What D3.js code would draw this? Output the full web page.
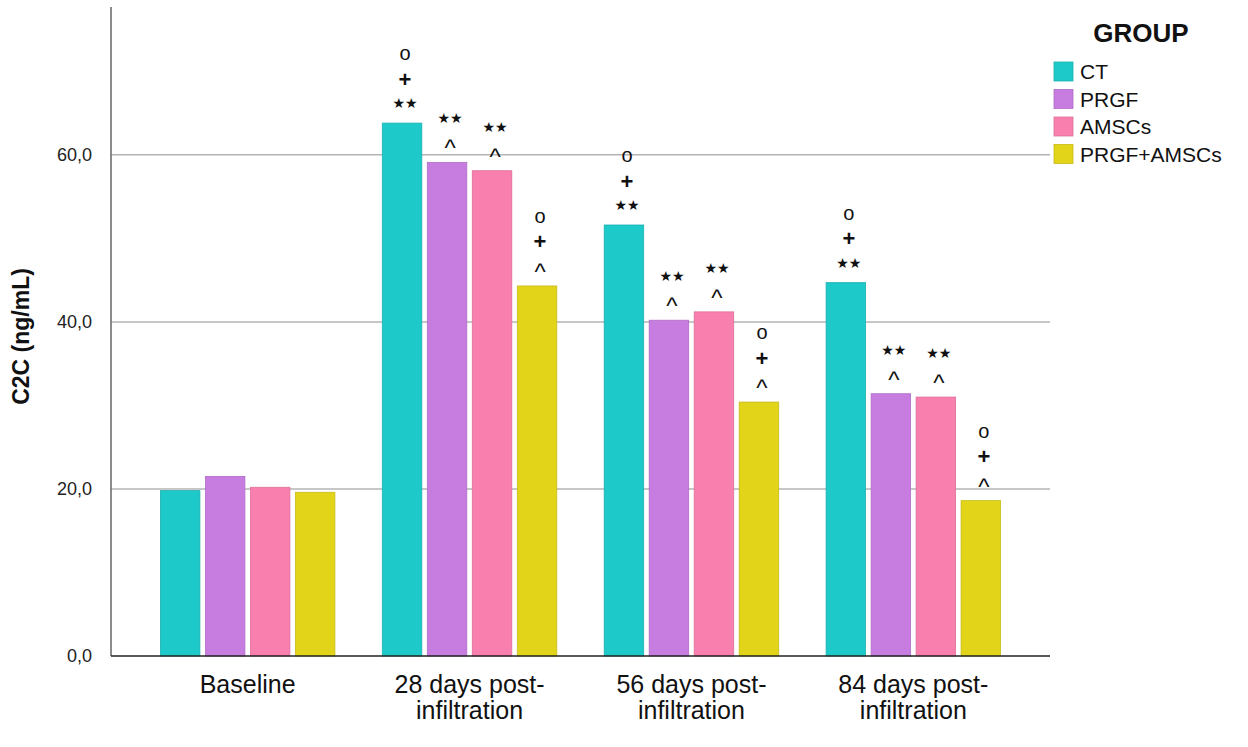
<!DOCTYPE html>
<html>
<head>
<meta charset="utf-8">
<script src="https://cdn.jsdelivr.net/npm/d3@7"></script>
<style>
  html, body { margin: 0; padding: 0; background: #fff; }
  svg { display: block; }
</style>
</head>
<body>
<div id="chart"></div>
<script>
// data
const timepoints = ["Baseline", "28 days post-infiltration", "56 days post-infiltration", "84 days post-infiltration"];
const timeLabels = [["Baseline"], ["28 days post-", "infiltration"], ["56 days post-", "infiltration"], ["84 days post-", "infiltration"]];
const groups = ["CT", "PRGF", "AMSCs", "PRGF+AMSCs"];
const groupColors = ["#1ec9c9", "#c77ce0", "#f97fae", "#e1d419"];

// C2C (ng/mL) per timepoint, one value per group
const valuesCT        = [19.8, 63.8, 51.6, 44.7];
const valuesPRGF      = [21.5, 59.1, 40.2, 31.4];
const valuesAMSCs     = [20.2, 58.1, 41.2, 31.0];
const valuesPRGFAMSCs = [19.6, 44.3, 30.4, 18.6];

// significance marks, listed from the bar top upwards
const marksCT        = [[], ["★★", "+", "o"], ["★★", "+", "o"], ["★★", "+", "o"]];
const marksPRGF      = [[], ["^", "★★"], ["^", "★★"], ["^", "★★"]];
const marksAMSCs     = [[], ["^", "★★"], ["^", "★★"], ["^", "★★"]];
const marksPRGFAMSCs = [[], ["^", "+", "o"], ["^", "+", "o"], ["^", "+", "o"]];

const yTicks = [0, 20, 40, 60];
const yMax = 77.7;

function makeChart(containerSelector) {
    const width = 1248;
    const height = 747;
    const plot = { left: 111, right: 1050, top: 7, bottom: 656 };

    const seriesValues = [valuesCT, valuesPRGF, valuesAMSCs, valuesPRGFAMSCs];
    const seriesMarks = [marksCT, marksPRGF, marksAMSCs, marksPRGFAMSCs];

    const rows = [];
    timepoints.forEach((t, i) => {
        groups.forEach((g, j) => {
            rows.push({ time: t, group: g, gi: j, value: seriesValues[j][i], marks: seriesMarks[j][i] });
        });
    });

    d3.select(containerSelector).html("");
    const svg = d3.select(containerSelector)
        .append("svg")
        .attr("width", width)
        .attr("height", height)
        .attr("viewBox", `0 0 ${width} ${height}`);

    // scales
    const x0 = d3.scaleBand()
        .domain(timepoints)
        .range([plot.left, plot.right])
        .paddingInner(0.2136)
        .paddingOuter(0.2226);

    const x1 = d3.scaleBand()
        .domain(groups)
        .range([0, x0.bandwidth()])
        .paddingInner(0.122)
        .paddingOuter(0);

    const y = d3.scaleLinear()
        .domain([0, yMax])
        .range([plot.bottom, plot.top]);

    // gridlines
    svg.append("g")
        .selectAll("line")
        .data(yTicks.filter(d => d > 0))
        .enter()
        .append("line")
        .attr("x1", plot.left)
        .attr("x2", plot.right)
        .attr("y1", d => y(d))
        .attr("y2", d => y(d))
        .attr("stroke", "#b4b4b4")
        .attr("stroke-width", 1.5);

    // y axis
    const yAxis = svg.append("g")
        .attr("transform", `translate(${plot.left},0)`)
        .call(d3.axisLeft(y)
            .tickValues(yTicks)
            .tickSize(0)
            .tickPadding(19)
            .tickFormat(d => d3.format(".1f")(d).replace(".", ",")));
    yAxis.select(".domain").remove();
    yAxis.selectAll("text")
        .style("font-family", "Liberation Sans, Arial, sans-serif")
        .style("font-size", "18px")
        .style("fill", "#222");

    svg.append("line")
        .attr("x1", plot.left).attr("x2", plot.left)
        .attr("y1", plot.top).attr("y2", plot.bottom)
        .attr("stroke", "#6e6e6e")
        .attr("stroke-width", 1.6);

    // bars
    svg.append("g")
        .selectAll("rect")
        .data(rows)
        .enter()
        .append("rect")
        .attr("x", d => x0(d.time) + x1(d.group))
        .attr("y", d => y(d.value))
        .attr("width", x1.bandwidth())
        .attr("height", d => y(0) - y(d.value))
        .attr("fill", d => groupColors[d.gi])
        .attr("stroke", d => d3.color(groupColors[d.gi]).darker(0.35))
        .attr("stroke-width", 0.8);

    // x axis line
    svg.append("line")
        .attr("x1", plot.left).attr("x2", plot.right)
        .attr("y1", plot.bottom).attr("y2", plot.bottom)
        .attr("stroke", "#222")
        .attr("stroke-width", 1.6);

    // x labels
    const xl = svg.append("g");
    timepoints.forEach((t, i) => {
        const cx = x0(t) + x0.bandwidth() / 2;
        timeLabels[i].forEach((line, k) => {
            xl.append("text")
                .attr("x", cx)
                .attr("y", 693 + k * 26)
                .attr("text-anchor", "middle")
                .style("font-family", "Liberation Sans, Arial, sans-serif")
                .style("font-size", "25px")
                .style("fill", "#111")
                .text(line);
        });
    });

    // significance marks
    const markStyle = {
        "★★": { size: 14, dy: 5, font: "DejaVu Sans", weight: "normal" },
        "+":  { size: 22, dy: 7.5, font: "Liberation Sans", weight: "bold" },
        "o":  { size: 20, dy: 5, font: "Liberation Sans", weight: "normal" },
        "^":  { size: 24, dy: 14, font: "Liberation Sans", weight: "normal" }
    };
    const mg = svg.append("g");
    rows.forEach(d => {
        const cx = x0(d.time) + x1(d.group) + x1.bandwidth() / 2 + 3;
        d.marks.forEach((m, k) => {
            const s = markStyle[m];
            const cy = y(d.value) - 20 - k * 24;
            mg.append("text")
                .attr("x", cx)
                .attr("y", cy + s.dy)
                .attr("text-anchor", "middle")
                .style("font-family", s.font)
                .style("font-size", s.size + "px")
                .style("font-weight", s.weight)
                .style("fill", "#111")
                .text(m);
        });
    });

    // y axis title
    svg.append("text")
        .attr("transform", `translate(29,${(plot.top + plot.bottom) / 2 + 5}) rotate(-90)`)
        .attr("text-anchor", "middle")
        .style("font-family", "Liberation Sans, Arial, sans-serif")
        .style("font-size", "23px")
        .style("font-weight", "bold")
        .style("fill", "#111")
        .text("C2C (ng/mL)");

    // legend
    const legend = svg.append("g");
    legend.append("text")
        .attr("x", 1141)
        .attr("y", 42)
        .attr("text-anchor", "middle")
        .style("font-family", "Liberation Sans, Arial, sans-serif")
        .style("font-size", "26px")
        .style("font-weight", "bold")
        .style("fill", "#111")
        .text("GROUP");

    groups.forEach((g, i) => {
        const yy = 62 + i * 27.5;
        legend.append("rect")
            .attr("x", 1054)
            .attr("y", yy)
            .attr("width", 19)
            .attr("height", 19)
            .attr("fill", groupColors[i])
            .attr("stroke", d3.color(groupColors[i]).darker(0.35))
            .attr("stroke-width", 0.8);
        legend.append("text")
            .attr("x", 1080)
            .attr("y", yy + 9.5)
            .attr("dominant-baseline", "central")
            .style("font-family", "Liberation Sans, Arial, sans-serif")
            .style("font-size", "21px")
            .style("fill", "#111")
            .text(g);
    });

    return svg.node();
}

makeChart("#chart");
</script>
</body>
</html>
